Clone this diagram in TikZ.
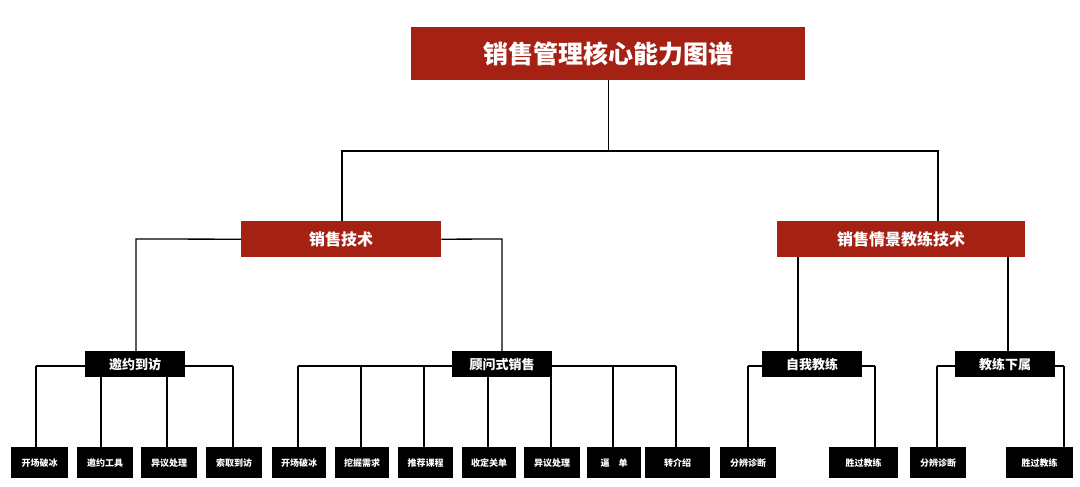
\documentclass[tikz,border=0pt]{standalone}
\usepackage{fontspec}
\setmainfont{Noto Sans CJK SC}
\begin{document}
\begin{tikzpicture}[x=1pt,y=-1pt,
 red/.style={fill={rgb,255:red,165;green,33;blue,20},text=white,font=\bfseries,inner sep=0pt,anchor=north west},
 blk/.style={fill=black,text=white,inner sep=0pt,anchor=north west},
 ln/.style={line width=1.3pt}]
\useasboundingbox (0,0) rectangle (1080,487);
\newcommand\bx[7]{\node[#1,minimum width=#4-#2,minimum height=#5-#3,font=#7] (#6) at (#2,#3) {};}
% title
\node[red,minimum width=394,minimum height=53,font=\bfseries\fontsize{25}{25}\selectfont] (t) at (411,27) {销售管理核心能力图谱};
\node[red,minimum width=200,minimum height=36,font=\bfseries\fontsize{16}{16}\selectfont] (a) at (241,221) {销售技术};
\node[red,minimum width=248,minimum height=36,font=\bfseries\fontsize{16}{16}\selectfont] (b) at (777,221) {销售情景教练技术};
\tikzset{mid/.style={blk,minimum width=100,minimum height=26,font=\bfseries\fontsize{13}{13}\selectfont}}
\node[mid] (a1) at (85,351) {邀约到访};
\node[mid] (a2) at (452,351) {顾问式销售};
\node[mid] (b1) at (762,351) {自我教练};
\node[mid] (b2) at (955,351) {教练下属};
\tikzset{leaf/.style={blk,minimum height=31,font=\bfseries\fontsize{9}{9}\selectfont}}
\foreach \n/\x/\w/\t in {l1/11/57/开场破冰,l2/77/56/邀约工具,l3/141/56/异议处理,l4/206/56/索取到访,
 m1/272/54/开场破冰,m2/335/54/挖掘需求,m3/398/55/推荐课程,m4/462/54/收定关单,m5/524/56/异议处理,m6/587/54/逼\quad 单,m7/645/65/转介绍/续费,
 p1/720/56/分辨诊断,p2/829/69/胜过教练,q1/910/56/分辨诊断,q2/1006/67/胜过教练}
 \node[leaf,minimum width=\w] (\n) at (\x,447) {\t};
% connectors
\coordinate (tl) at (342,151); \coordinate (tr) at (938,151);
\draw[ln] (t.south) -- (t.south |- tl);
\draw[ln] (a.north -| tl) -- (tl) -- (tr) -- (b.north -| tr);
\coordinate (al) at (136,239); \coordinate (ar) at (502,239);
\draw[ln] (a.west) -- (al) -- (a1.north -| al);
\draw[ln] (a.east) -- (ar) -- (a2.north -| ar);
\coordinate (bl) at (798,239); \coordinate (br) at (1008,239);
\draw[ln] (b.south -| bl) -- (b1.north -| bl);
\draw[ln] (b.south -| br) -- (b2.north -| br);
% groups
\foreach \g/\xs/\xe in {a1/36/233,a2/298/676,b1/748/875,b2/937/1064}{
 \draw[ln] (\xs,366) -- (\g.west |- 0,366);
 \draw[ln] (\g.east |- 0,366) -- (\xe,366);}
\foreach \x in {36,101,167,233,298,361,424,488,551,613,676,748,875,937,1064}
 \draw[ln] (\x,366) -- (\x,447);
\end{tikzpicture}
\end{document}
